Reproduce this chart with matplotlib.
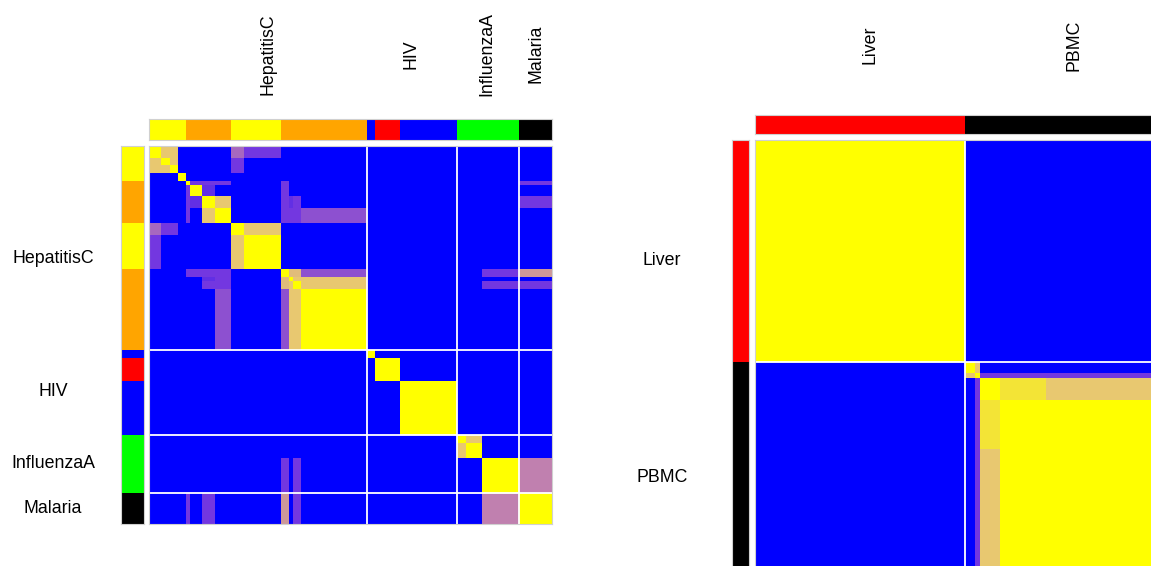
import numpy as np
import matplotlib.pyplot as plt
import matplotlib.transforms as mtransforms
from matplotlib.colors import LinearSegmentedColormap, to_rgb

plt.rcParams['font.family'] = ['Liberation Sans', 'DejaVu Sans']

# ---- left panel: consensus of disease samples ----
disease_names = ["HepatitisC", "HIV", "InfluenzaA", "Malaria"]
disease_sizes = [53, 22, 15, 8]

# annotation track, same sample order for rows and columns
track_colors = ["#FFFF00", "#FFA500", "#FFFF00", "#FFA500", "#0000FF",
                "#FF0000", "#0000FF", "#00FF00", "#000000"]
track_sizes = [9, 11, 12, 21, 2, 6, 14, 15, 8]

# sub-clusters along the diagonal (each one fully consistent with itself)
sub_sizes = [3, 2, 2, 2, 1, 3, 3, 4, 3, 9, 2, 1, 2, 16,   # HepatitisC
             2, 6, 14,                                    # HIV
             2, 4, 9,                                     # InfluenzaA
             8]                                           # Malaria

# consensus between pairs of sub-clusters (i, j, value); everything else is 0
sub_links = [
    (0, 1, 0.8), (0, 2, 0.8), (1, 2, 0.8),
    (0, 8, 0.45), (1, 8, 0.35), (2, 8, 0.35), (0, 9, 0.35),
    (4, 5, 0.35), (4, 6, 0.35), (4, 7, 0.35), (5, 6, 0.3),
    (6, 7, 0.8), (8, 9, 0.8),
    (4, 10, 0.35), (5, 10, 0.35), (6, 10, 0.35), (6, 11, 0.3), (6, 12, 0.35),
    (7, 10, 0.35), (7, 11, 0.35), (7, 12, 0.35), (7, 13, 0.4),
    (10, 11, 0.75), (10, 12, 0.75), (10, 13, 0.4),
    (11, 12, 0.8), (11, 13, 0.8), (12, 13, 0.8),
    (10, 19, 0.35), (12, 19, 0.35),
    (4, 20, 0.35), (6, 20, 0.35), (10, 20, 0.6), (12, 20, 0.35),
    (17, 18, 0.8), (19, 20, 0.5),
]

# ---- right panel: consensus of tissue samples ----
tissue_names = ["Liver", "PBMC"]
tissue_sizes = [41, 39]
tissue_colors = ["#FF0000", "#000000"]

tissue_sub_sizes = [41, 2, 1, 4, 9, 23]
tissue_links = [
    (1, 2, 0.8), (2, 3, 0.35), (2, 4, 0.35), (2, 5, 0.35),
    (3, 4, 0.9), (3, 5, 0.8), (4, 5, 1.0),
]

cmap = LinearSegmentedColormap.from_list(
    "consensus",
    [(0.0, "#0000FF"), (0.35, "#7438E0"), (0.5, "#C080B0"),
     (0.8, "#E8C870"), (1.0, "#FFFF00")])


def build_matrix(sizes, links):
    k = len(sizes)
    block = np.eye(k)
    for i, j, v in links:
        block[i, j] = v
        block[j, i] = v
    idx = np.repeat(np.arange(k), sizes)
    return block[np.ix_(idx, idx)]


def track_rgb(colors, sizes):
    return np.array([to_rgb(c) for c, s in zip(colors, sizes) for _ in range(s)])


W, H = 1151, 566
fig = plt.figure(figsize=(W / 100, H / 100), dpi=100)


def add_axes_px(x0, y0, x1, y1):
    ax = fig.add_axes([x0 / W, 1 - y1 / H, (x1 - x0) / W, (y1 - y0) / H])
    ax.set_xticks([])
    ax.set_yticks([])
    for sp in ax.spines.values():
        sp.set_color("#D0D0D0")
        sp.set_linewidth(0.8)
    return ax


def draw_panel(mat, cols, groups, names, box, top_box, side_box,
               side_label_x, top_label_y, shifts, fontsize=12.8):
    n = mat.shape[0]
    ax = add_axes_px(*box)
    ax.imshow(mat, cmap=cmap, vmin=0, vmax=1, aspect="auto",
              interpolation="nearest")
    edges = np.cumsum(groups)[:-1] - 0.5
    for e in edges:
        ax.axvline(e, color="white", lw=1.3)
        ax.axhline(e, color="white", lw=1.3)
    ax.set_xlim(-0.5, n - 0.5)
    ax.set_ylim(n - 0.5, -0.5)

    axt = add_axes_px(*top_box)
    axt.imshow(cols[np.newaxis, :, :], aspect="auto", interpolation="nearest")
    axs = add_axes_px(*side_box)
    axs.imshow(cols[:, np.newaxis, :], aspect="auto", interpolation="nearest")

    centres = np.cumsum(groups) - np.array(groups) / 2 - 0.5
    side_base = mtransforms.blended_transform_factory(fig.transFigure, ax.transData)
    top_base = mtransforms.blended_transform_factory(ax.transData, fig.transFigure)
    for name, c, sh in zip(names, centres, shifts):
        tr_side = mtransforms.offset_copy(side_base, fig=fig, x=0, y=-sh, units="dots")
        tr_top = mtransforms.offset_copy(top_base, fig=fig, x=sh, y=0, units="dots")
        ax.text(side_label_x / W, c, name, transform=tr_side, ha="center",
                va="center", fontsize=fontsize, clip_on=False)
        ax.text(c, 1 - top_label_y / H, name, transform=tr_top, ha="center",
                va="center", rotation=90, fontsize=fontsize, clip_on=False)
    return ax


left_mat = build_matrix(sub_sizes, sub_links)
left_cols = track_rgb(track_colors, track_sizes)
draw_panel(left_mat, left_cols, disease_sizes, disease_names,
           (149, 146, 552, 524), (149, 119, 552, 140), (121, 146, 144, 524),
           53, 54, shifts=[10, -1, -1, 0])

right_mat = build_matrix(tissue_sub_sizes, tissue_links)
right_cols = track_rgb(tissue_colors, tissue_sizes)
draw_panel(right_mat, right_cols, tissue_sizes, tissue_names,
           (755, 140, 1164, 573), (755, 115, 1164, 134), (732, 140, 749, 573),
           662, 45, shifts=[10, 10])

fig.savefig("out.png", dpi=100)
